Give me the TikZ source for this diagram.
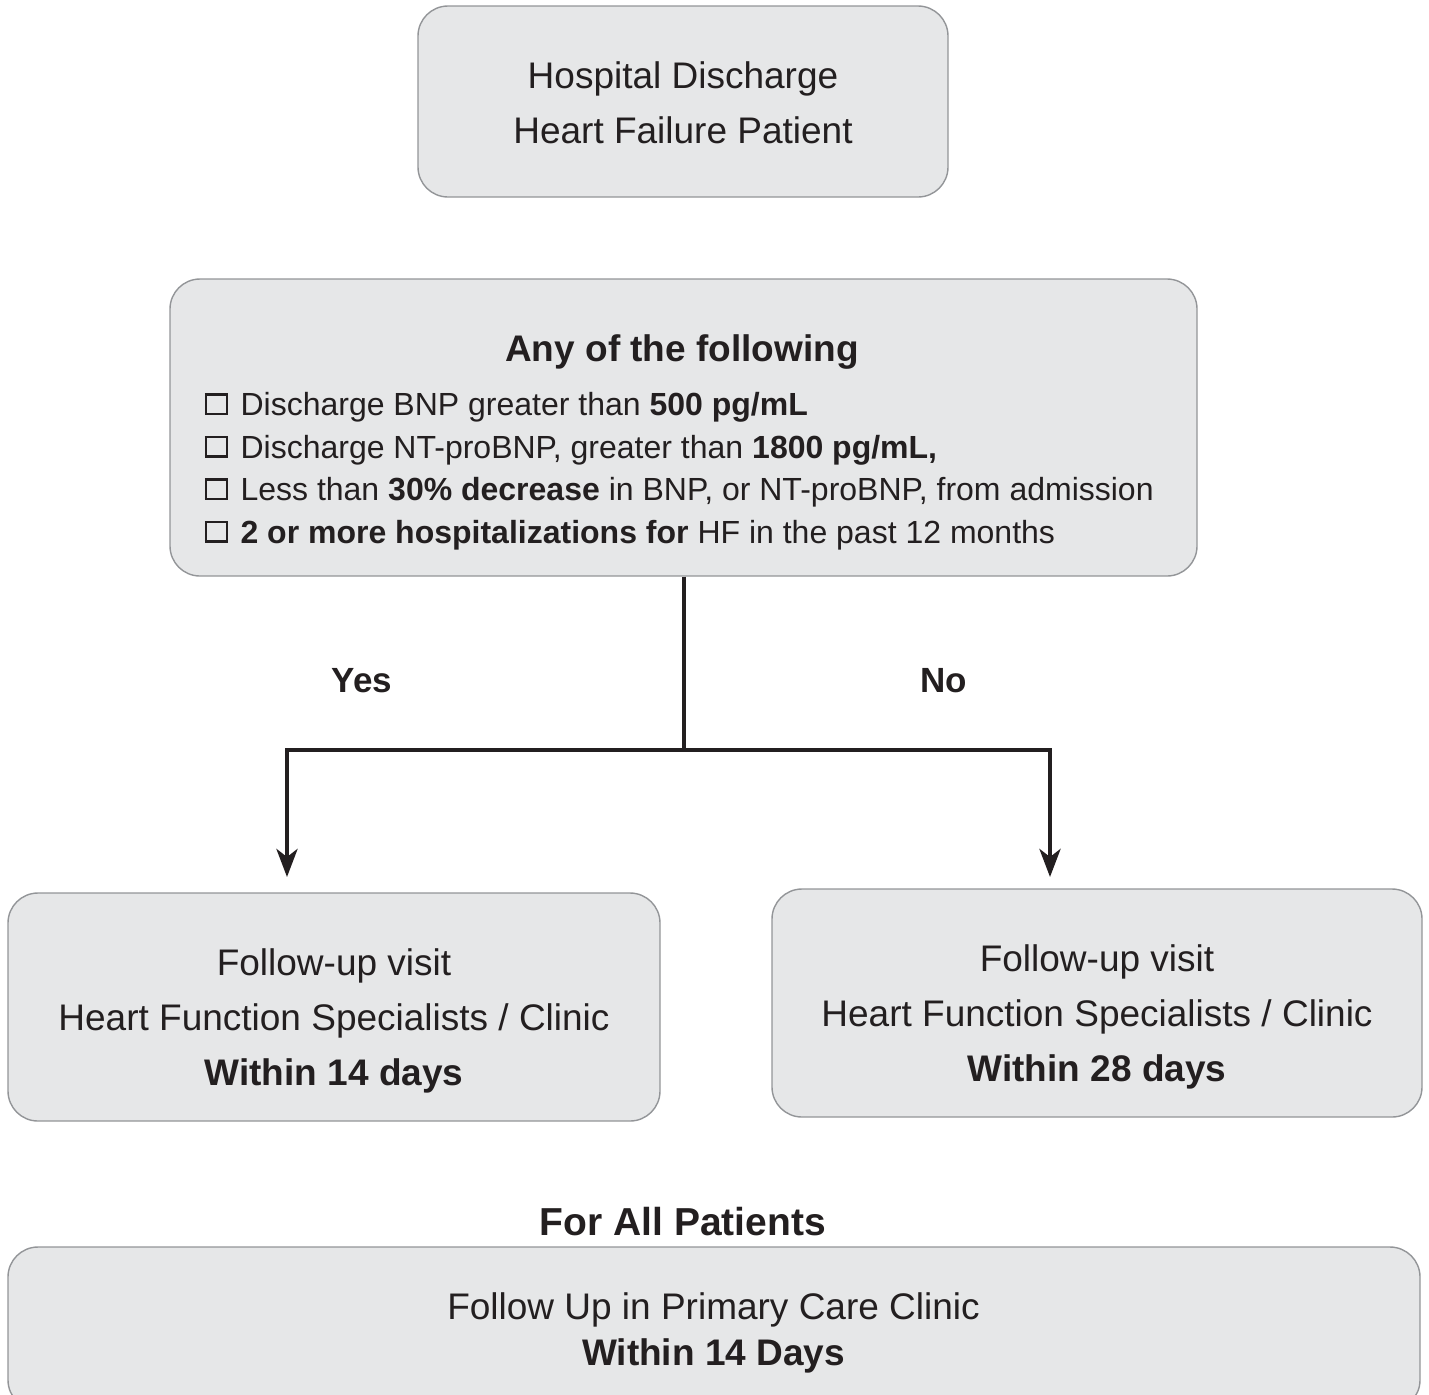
\documentclass[tikz,border=0pt]{standalone}
\usepackage{fontspec}
\setmainfont{Liberation Sans}
\usetikzlibrary{arrows.meta,positioning}
\definecolor{boxfill}{HTML}{E6E7E8}
\definecolor{boxline}{HTML}{939598}
\definecolor{ink}{HTML}{231F20}
\newcommand{\chkbox}{{\setlength{\fboxsep}{0pt}\setlength{\fboxrule}{1.25pt}\raisebox{1.4pt}{\fbox{\rule{0pt}{8.4pt}\hspace{9.2pt}}}}\hspace{6.2pt}}
\tikzset{every picture/.style={line width=0.75pt}}
\tikzset{
  box/.style={draw=boxline, fill=boxfill, line width=0.7pt, rounded corners=15pt, inner sep=0pt},
  bigtext/.style={text=ink, align=center, inner sep=0pt, font=\fontsize{18.5}{27.5}\selectfont},
  listtext/.style={text=ink, align=left, inner sep=0pt, font=\fontsize{16}{21.25}\selectfont},
  flow/.style={draw=ink, line width=2.3pt},
}

\begin{document}
\begin{tikzpicture}[x=0.5pt, y=-0.5pt]
    \useasboundingbox (0,0) rectangle (1429,1394);

    % discharge box
    \node[box, minimum width=265pt, minimum height=95.5pt] (discharge) at (683,101.5) {};
    \node[bigtext] (dischargetxt) at (683,103) {Hospital Discharge\\Heart Failure Patient};

    % criteria box
    \node[box, minimum width=513.5pt, minimum height=148.5pt] (criteria) at (683.5,427.5) {};
    \node[bigtext, font=\fontsize{18.5}{27.5}\selectfont\bfseries] (criteriatitle) at (682,352) {Any of the following};
    \node[listtext, anchor=west] (criterialist) at (204,471) {%
      \chkbox Discharge BNP greater than \textbf{500 pg/mL}\\
      \chkbox Discharge NT-proBNP, greater than \textbf{1800 pg/mL,}\\
      \chkbox Less than \textbf{30\% decrease} in BNP, or NT-proBNP, from admission\\
      \chkbox \textbf{2 or more hospitalizations for} HF in the past 12 months};

    % follow-up boxes
    \node[box, minimum width=326pt, minimum height=114pt] (early) at (334,1007) {};
    \node[bigtext] (earlytxt) at (334,1021) {Follow-up visit\\Heart Function Specialists / Clinic\\\textbf{Within 14 days}};
    \node[box, minimum width=325pt, minimum height=114pt] (late) at (1097,1003) {};
    \node[bigtext] (latetxt) at (1097,1017) {Follow-up visit\\Heart Function Specialists / Clinic\\\textbf{Within 28 days}};

    % primary care box
    \node[font=\fontsize{19.5}{24}\selectfont\bfseries, text=ink] (allpatients) at (683,1222) {For All Patients};
    \node[box, minimum width=706pt, minimum height=81.5pt] (primary) at (714,1328.5) {};
    \node[bigtext, font=\fontsize{18.5}{23}\selectfont] (primarytxt) at (713.5,1333) {Follow Up in Primary Care Clinic\\\textbf{Within 14 Days}};

    % branches
    \coordinate (split) at (684,750);
    \coordinate (yesend) at (287,877);
    \coordinate (noend) at (1050,877);
    \draw[flow] (criteria.south -| split) -- (split);
    \draw[flow, -{Stealth[length=14pt, width=10.5pt, inset=4pt]}] (split) -| (yesend);
    \draw[flow, -{Stealth[length=14pt, width=10.5pt, inset=4pt]}] (split) -| (noend);
    \node[font=\fontsize{17.5}{21}\selectfont\bfseries, text=ink] (yes) at (362,681) {Yes};
    \node[font=\fontsize{17.5}{21}\selectfont\bfseries, text=ink] (no) at (944,681) {No};
\end{tikzpicture}
\end{document}
